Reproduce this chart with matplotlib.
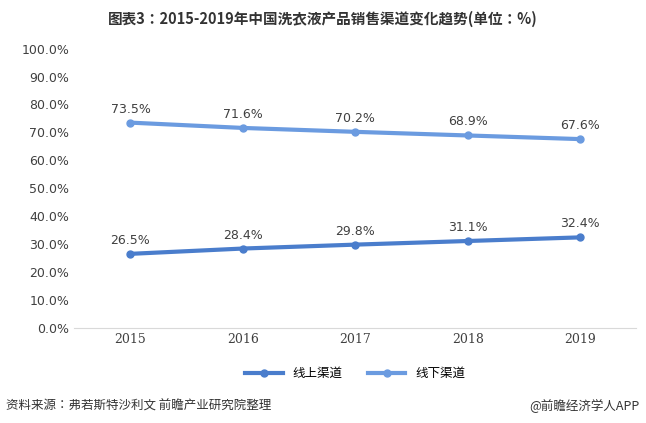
import matplotlib
matplotlib.use("Agg")
import matplotlib.pyplot as plt
from matplotlib import font_manager as fm

reg = fm.FontProperties(fname='/usr/share/fonts/opentype/noto/NotoSansCJK-Regular.ttc')
bold = fm.FontProperties(fname='/usr/share/fonts/opentype/noto/NotoSansCJK-Bold.ttc')

years = ["2015", "2016", "2017", "2018", "2019"]
online = [26.5, 28.4, 29.8, 31.1, 32.4]
offline = [73.5, 71.6, 70.2, 68.9, 67.6]
yticks = [0, 10, 20, 30, 40, 50, 60, 70, 80, 90, 100]

fig = plt.figure(figsize=(6.46, 4.23), dpi=100)
ax = fig.add_axes([0.115, 0.225, 0.87, 0.66])
x = range(len(years))
c1, c2 = "#4a7dcc", "#6b9be0"
ax.plot(x, online, color=c1, lw=3, marker='o', ms=5, label="线上渠道")
ax.plot(x, offline, color=c2, lw=3, marker='o', ms=5, label="线下渠道")
for i in x:
    ax.text(i, online[i] + 2.5, f"{online[i]:.1f}%", ha='center', va='bottom', fontsize=9, color='#404040', family='DejaVu Sans')
    ax.text(i, offline[i] + 2.5, f"{offline[i]:.1f}%", ha='center', va='bottom', fontsize=9, color='#404040', family='DejaVu Sans')
ax.set_xlim(-0.5, 4.5)
ax.set_ylim(0, 100)
ax.set_yticks(yticks)
ax.set_yticklabels([f"{v:.1f}%" for v in yticks], family='DejaVu Sans', fontsize=9, color='#404040')
ax.set_xticks(list(x))
ax.set_xticklabels(years, family='DejaVu Serif', fontsize=9, color='#404040')
ax.tick_params(length=0)
for s in ['top', 'right', 'left']:
    ax.spines[s].set_visible(False)
ax.spines['bottom'].set_color('#d9d9d9')
p = fm.FontProperties(fname='/usr/share/fonts/opentype/noto/NotoSansCJK-Regular.ttc', size=9)
ax.legend(loc='upper center', bbox_to_anchor=(0.5, -0.1), ncol=2, frameon=False, prop=p, handlelength=3)
fig.text(0.5, 0.955, "图表3：2015-2019年中国洗衣液产品销售渠道变化趋势(单位：%)", ha='center', va='center', fontsize=10.5, fontproperties=bold, color='#333333')
fig.text(0.01, 0.04, "资料来源：弗若斯特沙利文 前瞻产业研究院整理", ha='left', va='center', fontproperties=reg, fontsize=9, color='#333333')
fig.text(0.99, 0.04, "@前瞻经济学人APP", ha='right', va='center', fontproperties=reg, fontsize=9, color='#333333')
fig.savefig("out.png", dpi=100)
